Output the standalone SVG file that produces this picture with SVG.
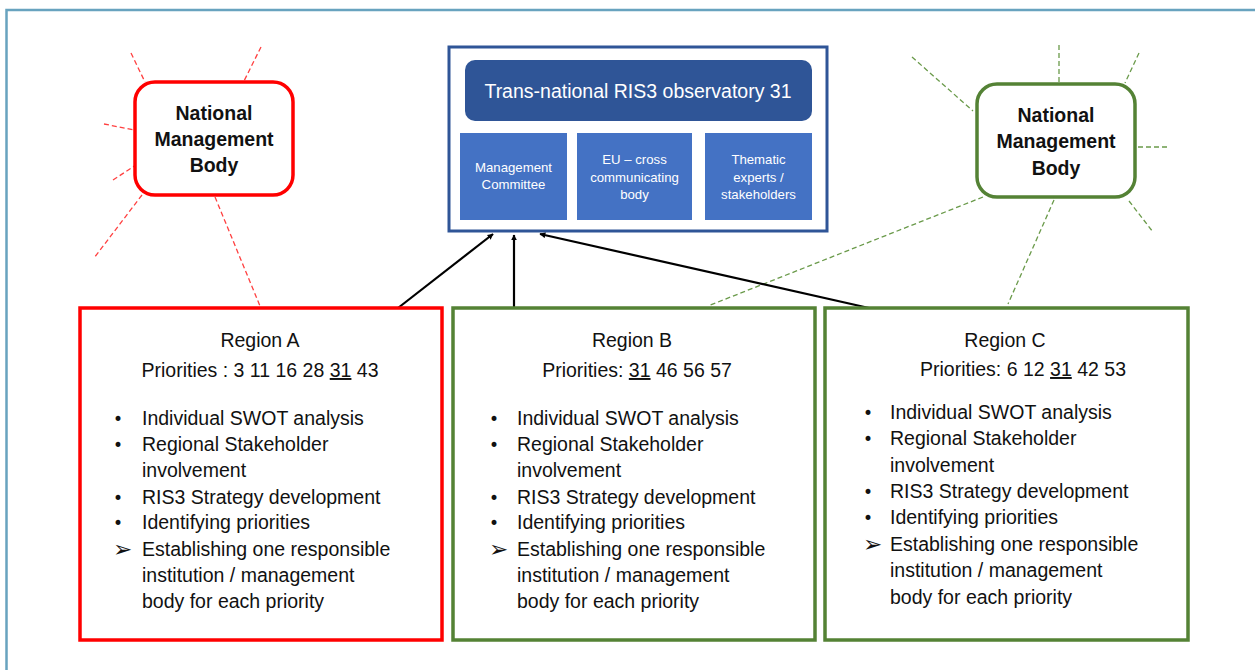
<svg xmlns="http://www.w3.org/2000/svg" width="1255" height="670" viewBox="0 0 1255 670">
<defs>
<style>
.frame{fill:none;stroke:#68a3bf;stroke-width:2.5}
.nmbR{fill:#fff;stroke:#ff0000;stroke-width:3.5}
.nmbG{fill:#fff;stroke:#548235;stroke-width:3.5}
.rayR{stroke:#ff4040;stroke-width:1.3;stroke-dasharray:5,3;fill:none}
.rayG{stroke:#6a9a4a;stroke-width:1.3;stroke-dasharray:5,3;fill:none}
.conn{stroke:#000;stroke-width:2.2;fill:none}
.boxR{fill:#fff;stroke:#ff0000;stroke-width:3.5}
.boxG{fill:#fff;stroke:#548235;stroke-width:3.5}
.obs{fill:#fff;stroke:#2f5597;stroke-width:3}
.title{fill:#2f5597}
.sub{fill:#4472c4}
.nt{font-family:"Liberation Sans",Arial,sans-serif;font-weight:bold;font-size:19.5px;fill:#111;text-anchor:middle}
.tt{font-family:"Liberation Sans",Arial,sans-serif;font-size:19.5px;fill:#fff;text-anchor:middle}
.st{font-family:"Liberation Sans",Arial,sans-serif;font-size:13.2px;fill:#fff;text-anchor:middle}
.rt{font-family:"Liberation Sans",Arial,sans-serif;font-size:19.5px;fill:#111}
.c{text-anchor:middle}
.bl{font-family:"DejaVu Sans","Liberation Sans",sans-serif;font-size:17px;fill:#111}
.ar{font-family:"DejaVu Sans",sans-serif;font-size:23px;fill:#111}
.u{text-decoration:underline}
</style>
<marker id="ah" viewBox="0 0 10 10" refX="9" refY="5" markerWidth="6" markerHeight="6" orient="auto" markerUnits="userSpaceOnUse">
<path d="M0,0 L10,5 L0,10 z" fill="#000"/>
</marker>
</defs>
<rect x="0" y="0" width="1255" height="670" fill="#fff"/>
<rect class="frame" x="6.5" y="10" width="1270" height="700"/>

<g id="connectors">
<line class="rayR" x1="131" y1="53" x2="145" y2="82"/>
<line class="rayR" x1="261" y1="47" x2="244" y2="81"/>
<line class="rayR" x1="104" y1="124" x2="134" y2="130"/>
<line class="rayR" x1="113" y1="180" x2="139" y2="163"/>
<line class="rayR" x1="142" y1="195" x2="94" y2="258"/>
<line class="rayR" x1="215" y1="197" x2="260" y2="306"/>
<line class="rayG" x1="912" y1="57" x2="973" y2="111"/>
<line class="rayG" x1="1059" y1="45" x2="1059" y2="82"/>
<line class="rayG" x1="1139" y1="53" x2="1125" y2="83"/>
<line class="rayG" x1="1138" y1="147" x2="1170" y2="147"/>
<line class="rayG" x1="1129" y1="201" x2="1153" y2="232"/>
<line class="rayG" x1="1054" y1="200" x2="1008" y2="304"/>
<line class="rayG" x1="983" y1="197" x2="708" y2="306"/>
<line class="conn" x1="398" y1="308" x2="493" y2="234" marker-end="url(#ah)"/>
<line class="conn" x1="514" y1="308" x2="514" y2="235" marker-end="url(#ah)"/>
<line class="conn" x1="869" y1="308" x2="540" y2="234" marker-end="url(#ah)"/>
</g>

<g id="nmb-left">
<rect class="nmbR" x="135" y="82" width="158" height="113" rx="20"/>
<text class="nt" x="214" y="120">National</text>
<text class="nt" x="214" y="146">Management</text>
<text class="nt" x="214" y="172">Body</text>
</g>

<g id="nmb-right">
<rect class="nmbG" x="977" y="84" width="158" height="113" rx="20"/>
<text class="nt" x="1056" y="122">National</text>
<text class="nt" x="1056" y="148">Management</text>
<text class="nt" x="1056" y="175">Body</text>
</g>

<g id="observatory">
<rect class="obs" x="449" y="47" width="378" height="184"/>
<rect class="title" x="465" y="60" width="347" height="61" rx="10"/>
<text class="tt" x="638" y="98">Trans-national RIS3 observatory 31</text>
<g id="management-committee">
<rect class="sub" x="460" y="133" width="107" height="87"/>
<text class="st" x="513.5" y="172">Management</text>
<text class="st" x="513.5" y="189">Committee</text>
</g>
<g id="eu-cross">
<rect class="sub" x="577" y="133" width="115" height="87"/>
<text class="st" x="634.5" y="164">EU – cross</text>
<text class="st" x="634.5" y="182">communicating</text>
<text class="st" x="634.5" y="199">body</text>
</g>
<g id="thematic">
<rect class="sub" x="705" y="133" width="107" height="87"/>
<text class="st" x="758.5" y="164">Thematic</text>
<text class="st" x="758.5" y="182">experts /</text>
<text class="st" x="758.5" y="199">stakeholders</text>
</g>
</g>

<g id="region-a">
<rect class="boxR" x="80" y="308" width="362" height="332"/>
<text class="rt c" x="260" y="347">Region A</text>
<text class="rt c" x="260" y="377">Priorities : 3 11 16 28 <tspan class="u">31</tspan> 43</text>
<text class="bl" x="113" y="425">•</text>
<text class="rt" x="142" y="425">Individual SWOT analysis</text>
<text class="bl" x="113" y="451">•</text>
<text class="rt" x="142" y="451">Regional Stakeholder</text>
<text class="rt" x="142" y="477">involvement</text>
<text class="bl" x="113" y="504">•</text>
<text class="rt" x="142" y="504">RIS3 Strategy development</text>
<text class="bl" x="113" y="529">•</text>
<text class="rt" x="142" y="529">Identifying priorities</text>
<text class="ar" x="113" y="557">➢</text>
<text class="rt" x="142" y="556">Establishing one responsible</text>
<text class="rt" x="142" y="582">institution / management</text>
<text class="rt" x="142" y="608">body for each priority</text>
</g>

<g id="region-b">
<rect class="boxG" x="453" y="308" width="362" height="332"/>
<text class="rt c" x="632" y="347">Region B</text>
<text class="rt c" x="637" y="377">Priorities: <tspan class="u">31</tspan> 46 56 57</text>
<text class="bl" x="489" y="425">•</text>
<text class="rt" x="517" y="425">Individual SWOT analysis</text>
<text class="bl" x="489" y="451">•</text>
<text class="rt" x="517" y="451">Regional Stakeholder</text>
<text class="rt" x="517" y="477">involvement</text>
<text class="bl" x="489" y="504">•</text>
<text class="rt" x="517" y="504">RIS3 Strategy development</text>
<text class="bl" x="489" y="529">•</text>
<text class="rt" x="517" y="529">Identifying priorities</text>
<text class="ar" x="489" y="557">➢</text>
<text class="rt" x="517" y="556">Establishing one responsible</text>
<text class="rt" x="517" y="582">institution / management</text>
<text class="rt" x="517" y="608">body for each priority</text>
</g>

<g id="region-c">
<rect class="boxG" x="825" y="308" width="363" height="332"/>
<text class="rt c" x="1005" y="347">Region C</text>
<text class="rt c" x="1023" y="376">Priorities: 6 12 <tspan class="u">31</tspan> 42 53</text>
<text class="bl" x="863" y="419">•</text>
<text class="rt" x="890" y="419">Individual SWOT analysis</text>
<text class="bl" x="863" y="445">•</text>
<text class="rt" x="890" y="445">Regional Stakeholder</text>
<text class="rt" x="890" y="472">involvement</text>
<text class="bl" x="863" y="498">•</text>
<text class="rt" x="890" y="498">RIS3 Strategy development</text>
<text class="bl" x="863" y="524">•</text>
<text class="rt" x="890" y="524">Identifying priorities</text>
<text class="ar" x="863" y="552">➢</text>
<text class="rt" x="890" y="551">Establishing one responsible</text>
<text class="rt" x="890" y="577">institution / management</text>
<text class="rt" x="890" y="604">body for each priority</text>
</g>
</svg>
